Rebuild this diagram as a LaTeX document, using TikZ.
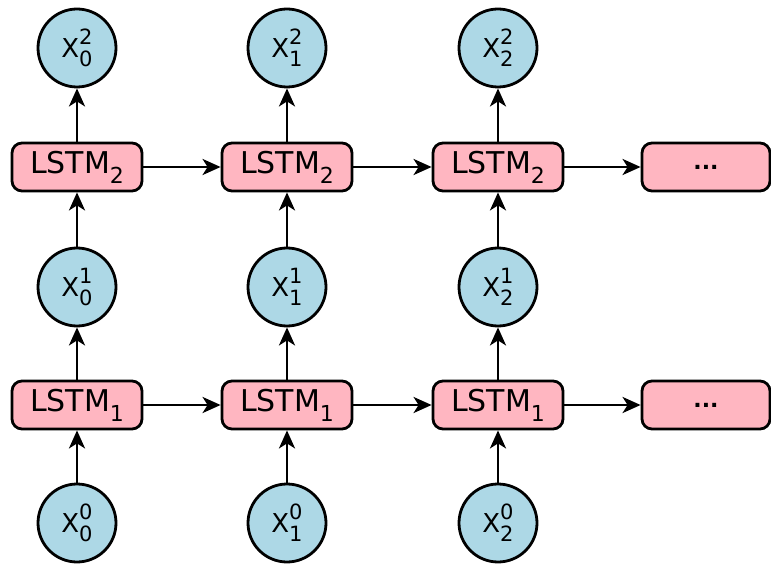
\documentclass[tikz,border=0pt]{standalone}
\usepackage{fontspec}
\setmainfont{DejaVu Sans}
\usetikzlibrary{arrows.meta}
\definecolor{cellpink}{RGB}{255,182,193}
\definecolor{vecblue}{RGB}{173,216,230}
% X with superscript #1 (layer) and subscript #2 (time step)
\newcommand\xvec[2]{\fontsize{26}{26}\selectfont X\rlap{\raisebox{13pt}{\fontsize{21}{21}\selectfont #1}}\raisebox{-9pt}{\fontsize{21}{21}\selectfont #2}}
% LSTM cell label with layer index
\newcommand\cell[1]{\fontsize{30}{30}\selectfont LSTM\raisebox{-10pt}{\fontsize{22}{22}\selectfont #1}}
\begin{document}
\begin{tikzpicture}[x=1pt,y=1pt,
  vec/.style={circle,draw,line width=2.8pt,fill=vecblue,minimum size=78pt,inner sep=0pt},
  lstm/.style={rounded corners=10pt,draw,line width=2.8pt,fill=cellpink,minimum width=130pt,minimum height=48pt,inner sep=0pt},
  flow/.style={line width=2.6pt,-{Stealth[length=18pt,width=16pt,inset=5pt]}}]
\useasboundingbox (0,0) rectangle (771,563);
% layer rows (y measured from the bottom edge)
\foreach \t/\x in {0/77,1/287,2/498}{
  \node[vec] (in\t) at (\x,40) {\xvec{0}{\t}};
  \node[lstm] (la\t) at (\x,158) {\cell{1}};
  \node[vec] (mid\t) at (\x,276) {\xvec{1}{\t}};
  \node[lstm] (lb\t) at (\x,396) {\cell{2}};
  \node[vec] (out\t) at (\x,515) {\xvec{2}{\t}};
  \draw[flow] (in\t) -- (la\t);
  \draw[flow] (la\t) -- (mid\t);
  \draw[flow] (mid\t) -- (lb\t);
  \draw[flow] (lb\t) -- (out\t);
}
\node[lstm,minimum width=128pt] (la3) at (706,158) {\fontsize{22}{22}\selectfont\bfseries ...};
\node[lstm,minimum width=128pt] (lb3) at (706,396) {\fontsize{22}{22}\selectfont\bfseries ...};
\foreach \a/\b in {0/1,1/2,2/3}{
  \draw[flow] (la\a) -- (la\b);
  \draw[flow] (lb\a) -- (lb\b);
}
\end{tikzpicture}
\end{document}
